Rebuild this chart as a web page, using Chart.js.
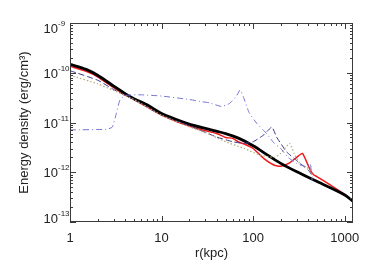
<!DOCTYPE html>
<html>
<head>
<meta charset="utf-8">
<script src="https://cdn.jsdelivr.net/npm/chart.js@4.4.1/dist/chart.umd.min.js"></script>
<style>
  html, body { margin: 0; padding: 0; background: #fff; }
  #wrap { width: 374px; height: 267px; }
</style>
</head>
<body>
<div id="wrap"><canvas id="mainChart"></canvas></div>
<script>
// === DATA ===
const rBlack = [1, 1.5, 2, 3, 4, 5, 7, 10, 15, 20, 30, 50, 70, 100, 150, 200, 300, 500, 1000, 1230];
const eBlack = [1.48e-10, 1.17e-10, 8.9e-11, 5.4e-11, 3.8e-11, 3.0e-11, 2.24e-11, 1.51e-11, 1.12e-11, 9.3e-12,
  7.6e-12, 6.0e-12, 4.8e-12, 3.4e-12, 2.1e-12, 1.51e-12, 1.02e-12, 6.5e-13, 3.5e-13, 2.6e-13];

const rRed = [1, 1.5, 2, 3, 4, 5, 7, 10, 15, 20, 30, 40, 50, 60, 70, 80, 100, 130, 170, 200, 250, 300, 345, 420, 457, 500, 700, 1000, 1230];
const eRed = [1.35e-10, 1.07e-10, 8.3e-11, 5.0e-11, 3.55e-11, 2.9e-11, 2.04e-11, 1.41e-11, 1.02e-11, 8.5e-12,
  6.8e-12, 6.0e-12, 5.0e-12, 4.8e-12, 4.0e-12, 3.7e-12, 3.0e-12, 1.9e-12, 1.38e-12, 1.32e-12,
  1.55e-12, 2.0e-12, 2.4e-12, 1.1e-12, 8.9e-13, 8.1e-13, 5.5e-13, 3.6e-13, 2.6e-13];

const rDashDot = [1, 2.5, 2.9, 3.2, 3.5, 4, 6, 10, 20, 28, 33, 45, 55, 65, 72, 78, 90, 110, 140, 170, 200, 240, 300, 380, 420, 440];
const eDashDot = [7.1e-12, 7.3e-12, 8.1e-12, 1.5e-11, 2.8e-11, 3.5e-11, 3.6e-11, 3.4e-11, 2.9e-11, 2.6e-11, 2.5e-11,
  2.1e-11, 2.4e-11, 3.3e-11, 4.5e-11, 3.3e-11, 1.6e-11, 9.5e-12, 6.0e-12, 3.8e-12, 3.0e-12, 2.0e-12,
  1.5e-12, 1.3e-12, 1.5e-12, 6.9e-13];

const rDashed = [1, 2, 3, 4, 5, 10, 20, 40, 60, 80, 100, 130, 160, 180, 200, 230, 300, 400, 450];
const eDashed = [1.1e-10, 7.1e-11, 4.6e-11, 3.5e-11, 2.9e-11, 1.4e-11, 8.6e-12, 5.1e-12, 4.1e-12, 3.8e-12,
  4.1e-12, 5.6e-12, 8.1e-12, 5.1e-12, 3.8e-12, 2.6e-12, 1.7e-12, 1.1e-12, 8.1e-13];

const rDotted = [1, 2, 3, 4, 5, 10, 20, 30, 50, 80, 120, 170, 200, 250, 280, 330, 400, 450];
const eDotted = [8.9e-11, 6.0e-11, 4.4e-11, 3.5e-11, 2.9e-11, 1.4e-11, 8.2e-12, 6.3e-12, 4.1e-12, 3.0e-12,
  2.2e-12, 2.0e-12, 2.4e-12, 3.8e-12, 2.4e-12, 1.4e-12, 1.2e-12, 8.4e-13];

const xTicks = [1, 10, 100, 1000];
const yExponents = [-13, -12, -11, -10, -9];

function pts(rs, es) {
  return rs.map((r, i) => ({ x: r, y: es[i] }));
}

// === PLUGIN: khung, vạch chia hướng vào trong, nhãn trục y có số mũ ===
const frameTicks = {
  id: 'frameTicks',
  afterDraw(chart) {
    const ctx = chart.ctx;
    const a = chart.chartArea;
    const xs = chart.scales.x;
    const ys = chart.scales.y;
    ctx.save();
    ctx.strokeStyle = '#3a3a3a';
    ctx.lineWidth = 1;
    ctx.strokeRect(a.left + 0.5, a.top + 0.5, a.right - a.left - 1, a.bottom - a.top - 1);

    ctx.beginPath();
    for (let d = 1; d <= 1000; d *= 10) {
      for (let m = 1; m <= 9; m++) {
        const v = d * m;
        if (v < xs.min || v > xs.max) continue;
        const px = Math.round(xs.getPixelForValue(v)) + 0.5;
        const len = m === 1 ? 6 : 3;
        ctx.moveTo(px, a.bottom); ctx.lineTo(px, a.bottom - len);
        ctx.moveTo(px, a.top); ctx.lineTo(px, a.top + len);
      }
    }
    for (let e = -13; e <= -9; e++) {
      for (let m = 1; m <= 9; m++) {
        const v = m * Math.pow(10, e);
        if (v < ys.min * 0.999 || v > ys.max * 1.001) continue;
        const py = Math.round(ys.getPixelForValue(v)) + 0.5;
        const len = m === 1 ? 6 : 3;
        ctx.moveTo(a.left, py); ctx.lineTo(a.left + len, py);
        ctx.moveTo(a.right, py); ctx.lineTo(a.right - len, py);
      }
    }
    ctx.stroke();

    // nhãn trục y: 10 với số mũ nhỏ, nhãn đầu/cuối dịch vào trong
    ctx.fillStyle = '#222';
    yExponents.forEach(e => {
      let py = ys.getPixelForValue(Math.pow(10, e));
      if (e === -9) py += 5;
      if (e === -13) py -= 4;
      ctx.font = '13px "Liberation Sans", Arial, sans-serif';
      ctx.textAlign = 'right';
      ctx.textBaseline = 'alphabetic';
      ctx.fillText('10', 58, py + 5);
      ctx.font = '8px "Liberation Sans", Arial, sans-serif';
      ctx.textAlign = 'left';
      ctx.fillText('-' + Math.abs(e), 58, py - 2);
    });
    ctx.restore();
  }
};

document.addEventListener('DOMContentLoaded', function () {
  const ctx = document.getElementById('mainChart').getContext('2d');
  const font = { family: '"Liberation Sans", Arial, sans-serif', size: 13 };

  new Chart(ctx, {
    type: 'line',
    data: {
      datasets: [
        { label: 'dash-dot', data: pts(rDashDot, eDashDot), borderColor: '#7272d4', borderWidth: 1,
          borderDash: [6, 3, 1, 3], tension: 0.15 },
        { label: 'dotted', data: pts(rDotted, eDotted), borderColor: '#b3ab78', borderWidth: 1.2,
          borderDash: [1.5, 2], tension: 0.15 },
        { label: 'dashed', data: pts(rDashed, eDashed), borderColor: '#3b3b8c', borderWidth: 1,
          borderDash: [6, 3], tension: 0.15 },
        { label: 'black', data: pts(rBlack, eBlack), borderColor: '#000', borderWidth: 2.8, tension: 0.3 },
        { label: 'red', data: pts(rRed, eRed), borderColor: '#f01818', borderWidth: 1.5, tension: 0.15 }
      ]
    },
    options: {
      responsive: true,
      maintainAspectRatio: false,
      animation: false,
      parsing: false,
      elements: { point: { radius: 0 } },
      layout: { padding: { top: 23, right: 21, left: 0, bottom: 0 } },
      plugins: { legend: { display: false }, tooltip: { enabled: false } },
      scales: {
        x: {
          type: 'logarithmic',
          min: 1,
          max: 1230,
          afterBuildTicks: s => { s.ticks = xTicks.map(v => ({ value: v })); },
          afterFit: s => { s.height = 45; },
          grid: { display: false, drawTicks: false },
          border: { display: false },
          ticks: { color: '#222', font: font, padding: 9, maxRotation: 0, autoSkip: false,
            callback: v => String(v) },
          title: { display: true, text: 'r(kpc)', color: '#222', font: font, padding: { top: 0, bottom: 6 } }
        },
        y: {
          type: 'logarithmic',
          min: 1e-13,
          max: 1e-9,
          afterBuildTicks: s => { s.ticks = yExponents.map(e => ({ value: Math.pow(10, e) })); },
          afterFit: s => { s.width = 70; },
          grid: { display: false, drawTicks: false },
          border: { display: false },
          ticks: { display: false },
          title: { display: true, text: 'Energy density (erg/cm³)', color: '#222', font: font,
            padding: { top: 17, bottom: 0 } }
        }
      }
    },
    plugins: [frameTicks]
  });
});
</script>
</body>
</html>
